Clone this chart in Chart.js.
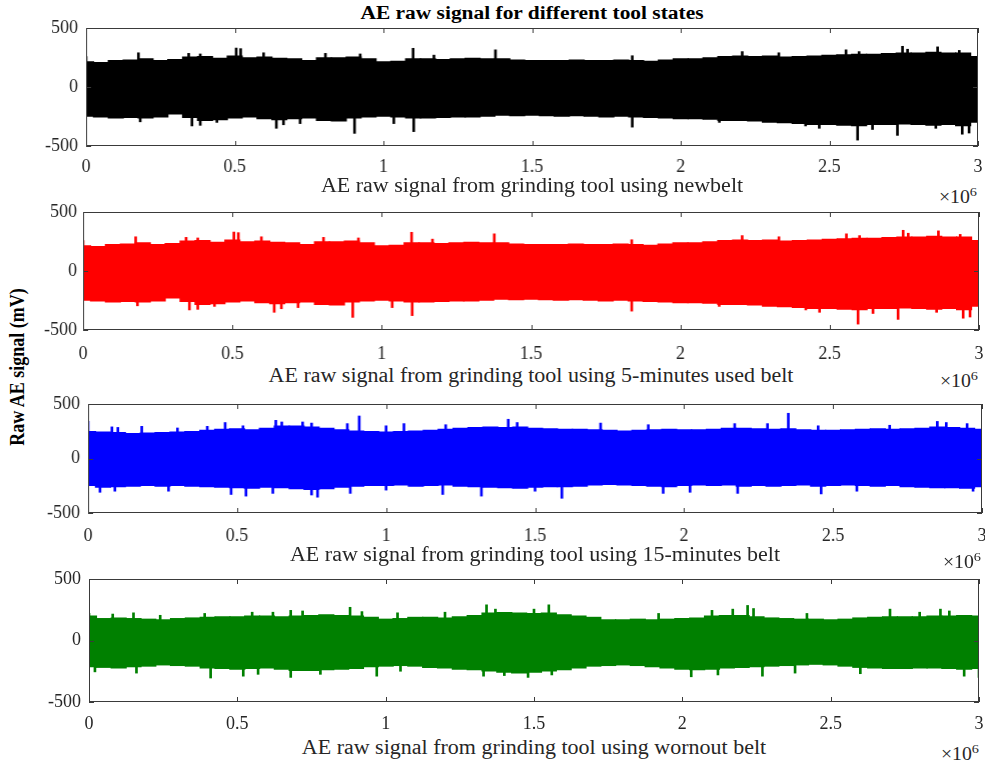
<!DOCTYPE html>
<html><head><meta charset="utf-8">
<script src="https://cdn.jsdelivr.net/npm/chart.js@4.4.0/dist/chart.umd.min.js"></script>
<style>
body{margin:0;background:#fff;width:985px;height:763px;overflow:hidden;position:relative;font-family:"Liberation Serif","Times New Roman",serif;}
.panel{position:absolute;left:0;width:985px;}
.txt{position:absolute;white-space:nowrap;}
.xt{position:absolute;white-space:nowrap;font-size:20px;color:#262626;transform:translate(-50%,-50%) scaleX(1.1);}
.exp{position:absolute;white-space:nowrap;font-size:18px;color:#262626;transform-origin:100% 50%;transform:translate(-100%,-50%) scaleX(1.1);}
.exp sup{font-size:13px;}
</style></head><body>
<div class="txt" style="left:532px;top:13px;font-weight:bold;font-size:18px;transform:translate(-50%,-50%) scaleX(1.19);">AE raw signal for different tool states</div>
<div class="txt" style="left:18px;top:367px;font-weight:bold;font-size:18px;transform:translate(-50%,-50%) rotate(-90deg) scaleY(1.15);">Raw AE signal (mV)</div>
<script>
// sample positions (x 10^6)
const pos = [0,0.05,0.10,0.15,0.20,0.25,0.30,0.35,0.40,0.45,0.50,0.55,0.60,0.65,0.70,0.75,0.80,0.85,0.90,0.95,
  1.00,1.05,1.10,1.15,1.20,1.25,1.30,1.35,1.40,1.45,1.50,1.55,1.60,1.65,1.70,1.75,1.80,1.85,1.90,1.95,
  2.00,2.05,2.10,2.15,2.20,2.25,2.30,2.35,2.40,2.45,2.50,2.55,2.60,2.65,2.70,2.75,2.80,2.85,2.90,2.95,3.00];
// signal used in panels 1 and 2 (new belt / 5-minutes used belt): envelope
const sigAHigh = [215,210,225,230,240,225,235,255,260,245,265,250,255,245,240,225,250,250,255,240,
  215,220,240,240,235,240,245,240,240,230,225,225,225,230,225,225,230,225,220,230,
  240,240,250,260,265,260,265,255,260,265,270,275,280,280,285,290,290,295,290,290,260];
const sigALow = [-250,-255,-265,-260,-265,-255,-230,-260,-285,-280,-265,-255,-270,-280,-270,-265,-285,-290,-265,-255,
  -250,-255,-265,-265,-260,-255,-255,-250,-240,-245,-240,-245,-250,-245,-250,-255,-250,-255,-260,-265,
  -270,-270,-275,-285,-285,-290,-300,-305,-310,-320,-320,-325,-330,-320,-320,-315,-320,-325,-320,-330,-300];
const sigASpikeUpX = [0.0,0.176,0.345,0.384,0.505,0.52,0.597,0.805,0.922,1.10,1.17,1.377,1.837,2.207,2.33,2.556,2.6,2.746,2.763,2.864,2.937];
const sigASpikeUpV = [257,290,285,280,330,325,290,285,280,328,270,315,265,300,290,315,300,345,320,340,310];
const sigASpikeLoX = [0.182,0.356,0.384,0.44,0.64,0.664,0.72,0.903,1.035,1.102,1.837,2.13,2.42,2.466,2.595,2.645,2.729,2.858,2.947,2.97];
const sigASpikeLoV = [-295,-330,-325,-300,-350,-320,-310,-393,-310,-378,-340,-300,-330,-350,-450,-360,-410,-350,-400,-390];
// 15-minutes belt
const sigBHigh = [250,245,240,230,235,240,245,250,260,270,275,265,280,300,300,290,280,265,255,250,
  245,250,255,260,270,280,285,290,285,290,280,275,270,270,265,260,255,260,265,270,
  265,265,270,280,280,275,270,275,265,260,260,265,270,275,270,275,280,290,285,280,270];
const sigBLow = [-250,-265,-260,-255,-250,-255,-250,-255,-260,-265,-270,-275,-265,-270,-280,-285,-280,-265,-255,-250,
  -250,-245,-255,-250,-245,-255,-260,-265,-270,-275,-265,-260,-260,-255,-245,-240,-245,-250,-255,-260,
  -250,-245,-250,-245,-255,-250,-255,-250,-245,-255,-250,-245,-250,-255,-250,-260,-265,-270,-270,-275,-260];
const sigBSpikeUpX = [0.0,0.08,0.1,0.18,0.3,0.4,0.46,0.52,0.63,0.65,0.72,0.75,0.87,0.91,1.0,1.06,1.2,1.41,1.44,1.72,1.88,2.17,2.28,2.35,2.45,2.69,2.85,2.88,2.95];
const sigBSpikeUpV = [340,290,285,295,280,295,330,300,350,335,335,325,320,390,300,320,310,360,330,325,310,320,320,415,300,305,340,330,320];
const sigBSpikeLoX = [0.04,0.09,0.27,0.48,0.53,0.62,0.75,0.77,0.88,1.0,1.19,1.32,1.5,1.59,1.93,2.02,2.18,2.46,2.58,2.97];
const sigBSpikeLoV = [-310,-300,-300,-330,-345,-320,-335,-355,-320,-290,-330,-345,-300,-365,-320,-310,-320,-325,-300,-300];
// wornout belt
const sigCHigh = [200,180,185,180,175,170,180,185,190,195,195,200,200,195,200,205,210,205,200,190,
  175,180,190,190,185,195,205,225,230,225,220,225,210,200,190,170,170,175,170,175,
  180,185,200,205,205,195,185,180,175,175,170,175,185,190,195,195,195,200,200,205,200];
const sigCLow = [-215,-220,-225,-215,-210,-200,-205,-210,-225,-230,-235,-230,-225,-235,-245,-245,-240,-235,-230,-215,
  -210,-205,-210,-220,-225,-235,-240,-250,-260,-265,-260,-250,-240,-225,-210,-205,-200,-205,-215,-225,
  -235,-240,-235,-225,-220,-215,-210,-205,-200,-195,-200,-210,-220,-225,-230,-230,-225,-225,-230,-235,-230];
const sigCSpikeUpX = [0.0,0.08,0.15,0.24,0.39,0.55,0.62,0.68,0.72,0.88,0.92,1.04,1.2,1.34,1.37,1.5,1.55,1.92,2.1,2.17,2.22,2.24,2.42,2.7,2.8,2.87,2.9];
const sigCSpikeUpV = [220,215,225,205,220,230,230,245,240,270,235,225,230,290,255,255,290,220,245,255,285,260,220,255,230,255,240];
const sigCSpikeLoX = [0.02,0.16,0.41,0.52,0.57,0.68,0.78,0.97,1.05,1.33,1.4,1.48,1.56,2.03,2.12,2.27,2.38,2.6,2.95,3.0];
const sigCSpikeLoV = [-255,-265,-305,-290,-275,-300,-275,-290,-250,-290,-285,-300,-280,-295,-280,-290,-265,-270,-290,-300];

const xTicks = [0,0.5,1,1.5,2,2.5,3];
const yTicks = [-500,0,500];

const signals = {
  A:{hi:sigAHigh,lo:sigALow,ux:sigASpikeUpX,uv:sigASpikeUpV,lx:sigASpikeLoX,lv:sigASpikeLoV},
  B:{hi:sigBHigh,lo:sigBLow,ux:sigBSpikeUpX,uv:sigBSpikeUpV,lx:sigBSpikeLoX,lv:sigBSpikeLoV},
  C:{hi:sigCHigh,lo:sigCLow,ux:sigCSpikeUpX,uv:sigCSpikeUpV,lx:sigCSpikeLoX,lv:sigCSpikeLoV}
};

const panels = [
  {sig:'A',color:'#000000',left:86,right:977,top:28,bottom:146,ytPad:8,xtOff:18,titleOff:39,expOff:50,title:'AE raw signal from grinding tool using newbelt'},
  {sig:'A',color:'#ff0000',left:83,right:978,top:212,bottom:330,ytPad:6,xtOff:21,titleOff:45,expOff:50,title:'AE raw signal from grinding tool using 5-minutes used belt'},
  {sig:'B',color:'#0000ff',left:88,right:981,top:404,bottom:513,ytPad:8,xtOff:20,titleOff:41,expOff:48,title:'AE raw signal from grinding tool using 15-minutes belt'},
  {sig:'C',color:'#008000',left:89,right:979,top:579,bottom:702,ytPad:8,xtOff:19.5,titleOff:45,expOff:51,title:'AE raw signal from grinding tool using wornout belt'}
];

const boxPlugin = {
  id:'box',
  afterDatasetsDraw(chart){
    const {ctx, chartArea:a, scales:{x,y}} = chart;
    ctx.save();
    ctx.strokeStyle='#3a3a3a'; ctx.lineWidth=1;
    const L=5;
    ctx.beginPath();
    x.ticks.forEach(t=>{const px=Math.round(x.getPixelForValue(t.value))+0.5;
      ctx.moveTo(px,a.top); ctx.lineTo(px,a.top+L); ctx.moveTo(px,a.bottom); ctx.lineTo(px,a.bottom-L);});
    y.ticks.forEach(t=>{const py=Math.round(y.getPixelForValue(t.value))+0.5;
      ctx.moveTo(a.left,py); ctx.lineTo(a.left+L,py); ctx.moveTo(a.right,py); ctx.lineTo(a.right-L,py);});
    ctx.stroke();
    ctx.strokeRect(Math.round(a.left)+0.5, Math.round(a.top)+0.5, Math.round(a.right-a.left)-1, Math.round(a.bottom-a.top)-1);
    ctx.restore();
  }
};

const AXH = 32;
panels.forEach(p=>{
  const s = signals[p.sig];
  const div = document.createElement('div');
  div.className='panel';
  let dTop = p.top-10, dLeft = 0, dW = 985, dH = (p.bottom-p.top)+10+AXH;
  const apply=()=>{div.style.top=dTop+'px';div.style.left=dLeft+'px';div.style.width=dW+'px';div.style.height=dH+'px';};
  apply();
  const cv = document.createElement('canvas');
  div.appendChild(cv); document.body.appendChild(div);
  const tickFont = {family:'"Liberation Serif","Times New Roman",serif', size:18, lineHeight:1};
  const chart = new Chart(cv,{
    type:'bar',
    data:{datasets:[
      {data:pos.map((v,i)=>({x:v*1e6,y:[s.lo[i],s.hi[i]]})),backgroundColor:p.color,borderWidth:0,barThickness:15.5,grouped:false},
      {data:s.ux.map((v,i)=>({x:v*1e6,y:[0,s.uv[i]]})),backgroundColor:p.color,borderWidth:0,barThickness:2,grouped:false},
      {data:s.lx.map((v,i)=>({x:v*1e6,y:[s.lv[i],0]})),backgroundColor:p.color,borderWidth:0,barThickness:2,grouped:false}
    ]},
    options:{
      responsive:true, maintainAspectRatio:false, animation:false, devicePixelRatio:1,
      layout:{padding:{top:0,right:0,left:0,bottom:0}},
      plugins:{legend:{display:false},tooltip:{enabled:false}},
      scales:{
        x:{type:'linear',min:0,max:3e6,offset:false,
          afterBuildTicks:sc=>{sc.ticks=xTicks.map(v=>({value:v*1e6}));},
          afterFit:sc=>{sc.height=AXH;},
          grid:{display:false,drawTicks:false,tickLength:0},border:{display:false},
          ticks:{autoSkip:false,maxRotation:0,padding:p.xtOff-9+3,color:'#262626',font:tickFont,callback:v=>String(v/1e6)}
        },
        y:{type:'linear',min:-500,max:500,
          afterBuildTicks:sc=>{sc.ticks=yTicks.map(v=>({value:v}));},
          afterFit:sc=>{sc.width=p.left;},
          grid:{display:false,drawTicks:false,tickLength:0},border:{display:false},
          ticks:{padding:p.ytPad,color:'#262626',font:tickFont,callback:v=>String(v)}
        }
      }
    },
    plugins:[boxPlugin]
  });
  for(let k=0;k<2;k++){
    const a = chart.chartArea;
    dTop += p.top - (dTop + a.top);
    dLeft += p.left - (dLeft + a.left);
    dH += (p.bottom-p.top) - (a.bottom-a.top);
    dW += (p.right-p.left) - (a.right-a.left);
    apply();
    chart.resize();
  }
  const t = document.createElement('div');
  t.className='xt';
  t.style.left = ((p.left+p.right)/2)+'px';
  t.style.top = (p.bottom+p.titleOff)+'px';
  t.textContent = p.title;
  document.body.appendChild(t);
  const e = document.createElement('div');
  e.className='exp';
  e.style.left = p.right+'px';
  e.style.top = (p.bottom+p.expOff)+'px';
  e.innerHTML = '&times;10<sup>6</sup>';
  document.body.appendChild(e);
});
</script>
</body></html>
